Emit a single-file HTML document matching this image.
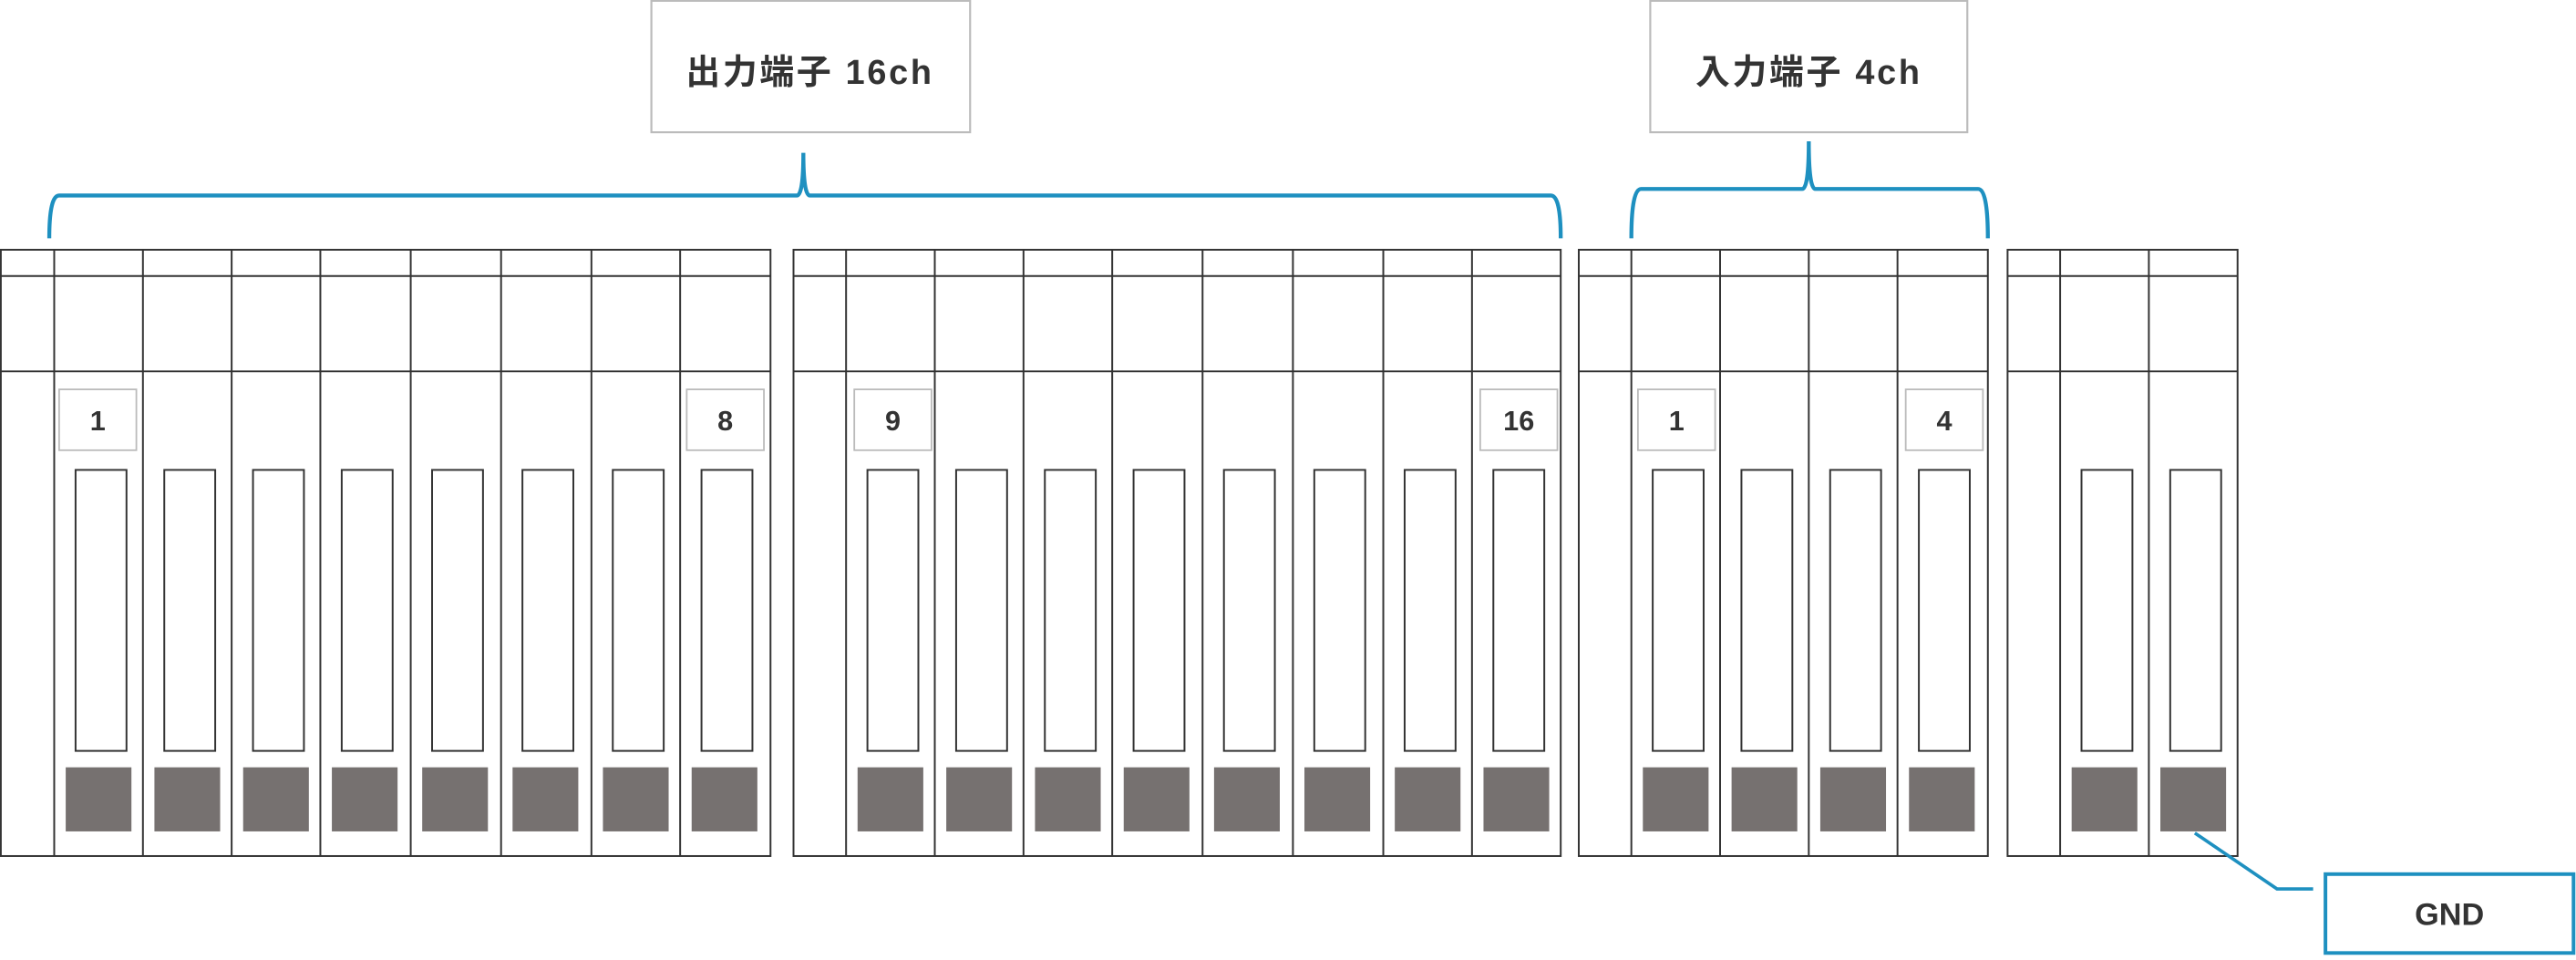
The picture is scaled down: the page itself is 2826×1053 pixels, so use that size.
<!DOCTYPE html>
<html><head><meta charset="utf-8"><style>
html,body{margin:0;padding:0;background:#fff;width:2826px;height:1053px;overflow:hidden}
svg{display:block}
text{font-family:"Liberation Sans","Noto Sans CJK JP",sans-serif;font-weight:bold;fill:#333}
</style></head><body>
<svg id="s" width="2826" height="1053" viewBox="0 0 1568 584.27" preserveAspectRatio="none" xmlns="http://www.w3.org/2000/svg">
<g id="g" fill="none" stroke="#333" stroke-width="1.1"></g>
<rect x="396.5" y="0.5" width="194" height="80" fill="#fff" stroke="#bbb" stroke-width="1.2"/>
<text x="493" y="51" font-size="21" letter-spacing="1.5" text-anchor="middle">出力端子 16ch</text>
<rect x="1004.5" y="0.5" width="193" height="80" fill="#fff" stroke="#bbb" stroke-width="1.2"/>
<text x="1101" y="51" font-size="21" letter-spacing="1.5" text-anchor="middle">入力端子 4ch</text>
<path d="M30,145 Q30,119 36,119 L485,119 Q489,119 489,93 Q489,119 493,119 L944,119 Q950,119 950,145" fill="none" stroke="#1e90c0" stroke-width="2.4"/>
<path d="M993,145 Q993,115 999,115 L1097,115 Q1101,115 1101,86 Q1101,115 1105,115 L1204,115 Q1210,115 1210,145" fill="none" stroke="#1e90c0" stroke-width="2.4"/>
<polyline points="1336,507 1386,541 1408,541" fill="none" stroke="#1e90c0" stroke-width="2"/>
<rect x="1415.5" y="532" width="151" height="48" fill="#fff" stroke="#1e90c0" stroke-width="2.2"/>
<text x="1491" y="563" font-size="19" text-anchor="middle">GND</text>
<g font-size="17">
<rect x="36" y="237" width="47" height="37" fill="#fff" stroke="#bbb" stroke-width="1"/><text x="59.5" y="262" text-anchor="middle">1</text>
<rect x="418" y="237" width="47" height="37" fill="#fff" stroke="#bbb" stroke-width="1"/><text x="441.5" y="262" text-anchor="middle">8</text>
<rect x="520" y="237" width="47" height="37" fill="#fff" stroke="#bbb" stroke-width="1"/><text x="543.5" y="262" text-anchor="middle">9</text>
<rect x="901" y="237" width="47" height="37" fill="#fff" stroke="#bbb" stroke-width="1"/><text x="924.5" y="262" text-anchor="middle">16</text>
<rect x="997" y="237" width="47" height="37" fill="#fff" stroke="#bbb" stroke-width="1"/><text x="1020.5" y="262" text-anchor="middle">1</text>
<rect x="1160" y="237" width="47" height="37" fill="#fff" stroke="#bbb" stroke-width="1"/><text x="1183.5" y="262" text-anchor="middle">4</text>
</g>
</svg>
<script>
var g=document.getElementById('g'),NS='http://www.w3.org/2000/svg';
function el(t,a){var e=document.createElementNS(NS,t);for(var k in a)e.setAttribute(k,a[k]);g.appendChild(e);return e;}
var mods=[
 {x0:0.5,cols:[33,87,141,195,250,305,360,414,469]},
 {x0:483,cols:[515,569,623,677,732,787,842,896,950]},
 {x0:961,cols:[993,1047,1101,1155,1210]},
 {x0:1222,cols:[1254,1308,1362]}
];
mods.forEach(function(m){
 var x1=m.cols[m.cols.length-1];
 el('rect',{x:m.x0,y:152,width:x1-m.x0,height:369});
 el('line',{x1:m.x0,y1:168,x2:x1,y2:168});
 el('line',{x1:m.x0,y1:226,x2:x1,y2:226});
 for(var i=0;i<m.cols.length-1;i++){
  var c=m.cols[i];
  el('line',{x1:c,y1:152,x2:c,y2:521});
  el('rect',{x:c+13,y:286,width:31,height:171});
  el('rect',{x:c+7,y:467,width:40,height:39,fill:'#767170',stroke:'none'});
 }
});
</script>
</body></html>
